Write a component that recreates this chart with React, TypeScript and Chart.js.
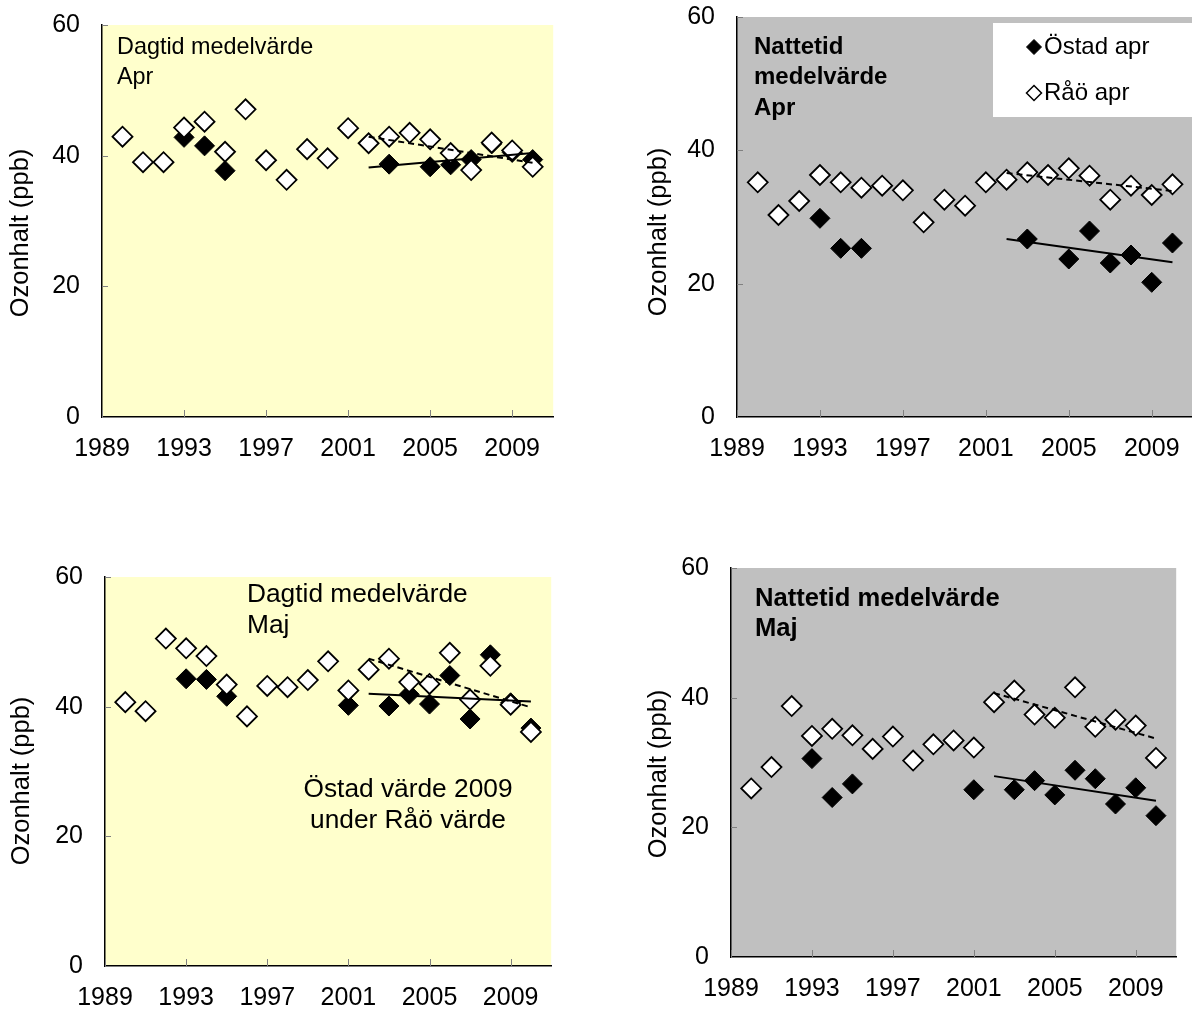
import React, { useEffect, useRef } from 'react';
import { Chart, registerables } from 'chart.js';

Chart.register(...registerables);

// ---------- data ----------
const years = [1990, 1991, 1992, 1993, 1994, 1995, 1996, 1997, 1998, 1999, 2000,
  2001, 2002, 2003, 2004, 2005, 2006, 2007, 2008, 2009, 2010];
const tickYears = [1989, 1993, 1997, 2001, 2005, 2009];
const yTicks = [0, 20, 40, 60];
const trendYears = [2002, 2010];

// Dagtid medelvärde, april
const raoAprDay = [42.9, 39.0, 39.0, 44.3, 45.2, 40.6, 47.1, 39.3, 36.3, 41.0, 39.6,
  44.2, 41.9, 42.9, 43.5, 42.5, 40.4, 37.8, 42.0, 40.8, 38.3];
const ostadAprDay = [null, null, null, 42.8, 41.5, 37.7, null, null, null, null, null,
  null, null, 38.7, null, 38.3, 38.6, 39.4, 41.8, 40.5, 39.4];
const raoAprDayTrend = [42.9, 38.9];
const ostadAprDayTrend = [38.2, 40.4];

// Nattetid medelvärde, april
const raoAprNight = [35.2, 30.3, 32.4, 36.3, 35.2, 34.4, 34.7, 34.0, 29.2, 32.6, 31.7,
  35.2, 35.6, 36.7, 36.3, 37.3, 36.2, 32.6, 34.7, 33.3, 34.9];
const ostadAprNight = [null, null, null, 29.8, 25.3, 25.3, null, null, null, null, null,
  null, null, 26.7, null, 23.7, 27.9, 23.1, 24.3, 20.2, 26.1];
const raoAprNightTrend = [36.6, 33.9];
const ostadAprNightTrend = [26.7, 23.2];

// Dagtid medelvärde, maj
const raoMayDay = [40.7, 39.3, 50.5, 49.0, 47.8, 43.4, 38.5, 43.2, 43.0, 44.1, 47.0,
  42.5, 45.7, 47.4, 43.8, 43.5, 48.3, 41.1, 46.3, 40.3, 36.1];
const ostadMayDay = [null, null, null, 44.3, 44.2, 41.6, null, null, null, null, null,
  40.2, null, 40.1, 41.9, 40.4, 44.8, 38.1, 48.0, 40.6, 36.7];
const raoMayDayTrend = [47.4, 39.9];
const ostadMayDayTrend = [42.0, 40.8];

// Nattetid medelvärde, maj
const raoMayNight = [26.0, 29.3, 38.7, 34.1, 35.2, 34.2, 32.1, 34.0, 30.3, 32.8, 33.4,
  32.3, 39.3, 41.1, 37.4, 36.9, 41.6, 35.5, 36.6, 35.7, 30.7];
const ostadMayNight = [null, null, null, 30.6, 24.6, 26.7, null, null, null, null, null,
  25.8, null, 25.8, 27.2, 25.0, 28.8, 27.5, 23.6, 26.1, 21.8];
const raoMayNightTrend = [40.7, 33.7];
const ostadMayNightTrend = [27.9, 24.1];

const yTitle = 'Ozonhalt (ppb)';
const legendLabels = ['Östad apr', 'Råö apr'];

// ---------- styling / layout ----------
const FONT = "'Liberation Sans', Arial, Helvetica, sans-serif";
const FS = 25;
const TITLE_FS = 25.5;
const AXW = 100; // y axis box width
const AXH = 70;  // x axis box height
const PADT = 45;
const PADR = 10;
const MR = 10; // marker radius

type Note = { text: string; x: number; y: number; size: number; bold?: boolean; align?: CanvasTextAlign };
type Panel = {
  left: number; top: number; right: number; bottom: number;
  bg: string;
  rao: (number | null)[]; ostad: (number | null)[];
  raoTrend: number[]; ostadTrend: number[];
  notes: Note[];
  titleX: number; titleY: number;
  legend?: boolean;
};

const panels: Panel[] = [
  {
    left: 102, top: 25, right: 555, bottom: 417, bg: '#FFFFCC',
    rao: raoAprDay, ostad: ostadAprDay, raoTrend: raoAprDayTrend, ostadTrend: ostadAprDayTrend,
    notes: [
      { text: 'Dagtid medelvärde', x: 117, y: 48, size: 23.4 },
      { text: 'Apr', x: 117, y: 78, size: 23.4 },
    ],
    titleX: 21, titleY: 233,
  },
  {
    left: 737, top: 17, right: 1195, bottom: 417, bg: '#C0C0C0',
    rao: raoAprNight, ostad: ostadAprNight, raoTrend: raoAprNightTrend, ostadTrend: ostadAprNightTrend,
    notes: [
      { text: 'Nattetid', x: 754, y: 47, size: 24, bold: true },
      { text: 'medelvärde', x: 754, y: 77, size: 24, bold: true },
      { text: 'Apr', x: 754, y: 108, size: 24, bold: true },
    ],
    titleX: 659, titleY: 232,
    legend: true,
  },
  {
    left: 105, top: 577, right: 553, bottom: 966, bg: '#FFFFCC',
    rao: raoMayDay, ostad: ostadMayDay, raoTrend: raoMayDayTrend, ostadTrend: ostadMayDayTrend,
    notes: [
      { text: 'Dagtid medelvärde', x: 247, y: 595, size: 26.3 },
      { text: 'Maj', x: 247, y: 626, size: 26.3 },
      { text: 'Östad värde 2009', x: 408, y: 790, size: 26.3, align: 'center' },
      { text: 'under Råö värde', x: 408, y: 821, size: 26.3, align: 'center' },
    ],
    titleX: 22, titleY: 781,
  },
  {
    left: 731, top: 568, right: 1178, bottom: 957, bg: '#C0C0C0',
    rao: raoMayNight, ostad: ostadMayNight, raoTrend: raoMayNightTrend, ostadTrend: ostadMayNightTrend,
    notes: [
      { text: 'Nattetid medelvärde', x: 755, y: 599, size: 25.6, bold: true },
      { text: 'Maj', x: 755, y: 629, size: 25.6, bold: true },
    ],
    titleX: 659, titleY: 774,
  },
];

function toPts(vals: (number | null)[]) {
  const out: { x: number; y: number }[] = [];
  years.forEach((yr, i) => {
    const v = vals[i];
    if (v !== null && v !== undefined) out.push({ x: yr, y: v });
  });
  return out;
}

function diamond(ctx: CanvasRenderingContext2D, x: number, y: number, r: number, fill: string, lw: number) {
  ctx.beginPath();
  ctx.moveTo(x, y - r);
  ctx.lineTo(x + r, y);
  ctx.lineTo(x, y + r);
  ctx.lineTo(x - r, y);
  ctx.closePath();
  ctx.fillStyle = fill;
  ctx.fill();
  ctx.lineWidth = lw;
  ctx.strokeStyle = '#000';
  ctx.stroke();
}

function PanelChart({ p }: { p: Panel }) {
  const ref = useRef<HTMLCanvasElement | null>(null);
  const cLeft = p.left - AXW;
  const cTop = p.top - PADT;
  const cW = AXW + (p.right - p.left) + PADR;
  const cH = PADT + (p.bottom - p.top) + AXH;

  useEffect(() => {
    if (!ref.current) return;
    const deco = {
      id: 'deco',
      beforeDraw(chart: any) {
        const { ctx, chartArea: a } = chart;
        ctx.save();
        ctx.fillStyle = p.bg;
        ctx.fillRect(a.left, a.top, a.right - a.left, a.bottom - a.top);
        ctx.restore();
      },
      beforeDatasetsDraw(chart: any) {
        const { ctx, chartArea: a, scales } = chart;
        ctx.save();
        ctx.strokeStyle = '#808080';
        ctx.lineWidth = 1;
        yTicks.forEach((v) => {
          const y = Math.round(scales.y.getPixelForValue(v)) + 0.5;
          ctx.beginPath();
          ctx.moveTo(a.left, y);
          ctx.lineTo(a.left + 6, y);
          ctx.stroke();
        });
        tickYears.forEach((v) => {
          const x = Math.round(scales.x.getPixelForValue(v)) + 0.5;
          ctx.beginPath();
          ctx.moveTo(x, a.bottom);
          ctx.lineTo(x, a.bottom - 7);
          ctx.stroke();
        });
        ctx.restore();
      },
      afterDraw(chart: any) {
        const { ctx } = chart;
        ctx.save();
        ctx.fillStyle = '#000';
        ctx.textBaseline = 'middle';
        p.notes.forEach((n) => {
          ctx.font = `${n.bold ? 'bold ' : ''}${n.size}px ${FONT}`;
          ctx.textAlign = n.align || 'left';
          ctx.fillText(n.text, n.x - cLeft, n.y - cTop);
        });
        // y axis title
        ctx.save();
        ctx.translate(p.titleX - cLeft, p.titleY - cTop);
        ctx.rotate(-Math.PI / 2);
        ctx.textAlign = 'center';
        ctx.font = `${TITLE_FS}px ${FONT}`;
        ctx.fillText(yTitle, 0, 0);
        ctx.restore();
        if (p.legend) {
          const bx = 993 - cLeft, by = 23 - cTop;
          ctx.fillStyle = '#fff';
          ctx.fillRect(bx, by, 220, 94);
          diamond(ctx, 1034 - cLeft, 47 - cTop, 7.5, '#000', 1);
          diamond(ctx, 1034 - cLeft, 93 - cTop, 7.5, '#fff', 1.5);
          ctx.fillStyle = '#000';
          ctx.textAlign = 'left';
          ctx.font = `24px ${FONT}`;
          ctx.fillText(legendLabels[0], 1044 - cLeft, 47 - cTop);
          ctx.fillText(legendLabels[1], 1044 - cLeft, 93 - cTop);
        }
        ctx.restore();
      },
    };

    const tickFont = { family: FONT, size: FS };
    const chart = new Chart(ref.current, {
      type: 'scatter',
      data: {
        datasets: [
          {
            type: 'line',
            label: 'Östad trend',
            data: trendYears.map((x, i) => ({ x, y: p.ostadTrend[i] })),
            borderColor: '#000',
            borderWidth: 2,
            pointRadius: 0,
            showLine: true,
            fill: false,
            order: 0,
          } as any,
          {
            type: 'line',
            label: 'Råö trend',
            data: trendYears.map((x, i) => ({ x, y: p.raoTrend[i] })),
            borderColor: '#000',
            borderWidth: 2,
            borderDash: [6, 4],
            pointRadius: 0,
            showLine: true,
            fill: false,
            order: 0,
          } as any,
          {
            label: 'Råö',
            data: toPts(p.rao),
            pointStyle: 'rectRot',
            pointRadius: MR,
            pointHoverRadius: MR,
            backgroundColor: '#fff',
            borderColor: '#000',
            borderWidth: 1.8,
            order: 1,
          },
          {
            label: 'Östad',
            data: toPts(p.ostad),
            pointStyle: 'rectRot',
            pointRadius: MR,
            pointHoverRadius: MR,
            backgroundColor: '#000',
            borderColor: '#000',
            borderWidth: 1,
            order: 2,
          },
        ],
      },
      options: {
        responsive: false,
        animation: false,
        events: [],
        layout: { padding: { left: 0, top: PADT, right: PADR, bottom: 0 } },
        plugins: { legend: { display: false }, tooltip: { enabled: false } },
        scales: {
          x: {
            type: 'linear',
            min: 1989,
            max: 2011,
            afterBuildTicks: (s: any) => { s.ticks = tickYears.map((v) => ({ value: v })); },
            afterFit: (s: any) => { s.height = AXH; },
            ticks: {
              font: tickFont, color: '#000', padding: 17, maxRotation: 0, autoSkip: false,
              callback: (v: any) => String(v),
            },
            grid: { display: false, drawTicks: false },
            border: { display: true, color: '#000', width: 1.5 },
          },
          y: {
            min: 0,
            max: 60,
            afterBuildTicks: (s: any) => { s.ticks = yTicks.map((v) => ({ value: v })); },
            afterFit: (s: any) => { s.width = AXW; },
            ticks: { font: tickFont, color: '#000', padding: 22 },
            grid: { display: false, drawTicks: false },
            border: { display: true, color: '#000', width: 1.5 },
          },
        },
      },
      plugins: [deco],
    } as any);
    return () => chart.destroy();
  }, []);

  return (
    <canvas
      ref={ref}
      width={cW}
      height={cH}
      style={{ position: 'absolute', left: cLeft, top: cTop, width: cW, height: cH }}
    />
  );
}

export default function App() {
  return (
    <div style={{ position: 'absolute', left: 0, top: 0, width: 1192, height: 1012, overflow: 'hidden', background: '#fff' }}>
      {panels.map((p, i) => (
        <PanelChart key={i} p={p} />
      ))}
    </div>
  );
}
